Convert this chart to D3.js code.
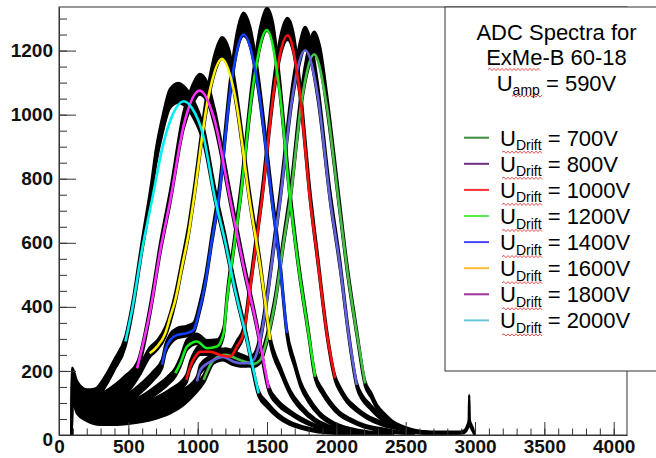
<!DOCTYPE html>
<html>
<head>
<meta charset="utf-8">
<script src="https://cdn.jsdelivr.net/npm/d3@7"></script>
<style>
  body { margin: 0; background: #fff; }
  svg { display: block; }
</style>
</head>
<body>
<div id="chart"></div>
<script>
// tick labels
var xMajor = [0, 500, 1000, 1500, 2000, 2500, 3000, 3500, 4000];
var yMajor = [0, 200, 400, 600, 800, 1000, 1200];

var voltages = ["700V", "800V", "1000V", "1200V", "1400V", "1600V", "1800V", "2000V"];
var fitColors = ["#44c044", "#6262dc", "#ff1010", "#18ee18", "#1140ff", "#fff000", "#ff30ff", "#00f0f0"];
var legendColors = ["#3d8b3d", "#6b2d7d", "#ff3333", "#55ee55", "#4444ff", "#ffbb33", "#a0309a", "#66c6d9"];

// fitted curves, [adc, counts]
var fit700 = [[1043,172],[1115,234],[1200,250],[1300,235],[1400,222],[1451,234],[1499,297],[1560,420],[1619,599],[1667,734],[1750,1044],[1840,1188],[1930,1030],[2015,734],[2075,526],[2147,318],[2207,161]];
var fit800 = [[995,167],[1019,203],[1115,234],[1180,244],[1259,229],[1307,224],[1355,224],[1403,234],[1451,297],[1499,422],[1547,578],[1595,734],[1685,1061],[1775,1201],[1865,1061],[1955,734],[2027,526],[2087,318],[2147,156]];
var fit1000 = [[918,172],[947,214],[983,245],[1019,260],[1091,260],[1163,250],[1235,245],[1283,276],[1331,318],[1367,422],[1415,578],[1463,734],[1555,1092],[1648,1248],[1730,1091],[1811,734],[1871,526],[1931,318],[1991,177]];
var fit1200 = [[839,193],[875,224],[923,276],[995,292],[1067,271],[1139,276],[1187,318],[1211,422],[1259,578],[1307,734],[1400,1093],[1499,1264],[1590,1077],[1667,734],[1727,526],[1799,318],[1847,182]];
var fit1400 = [[743,219],[767,266],[803,297],[851,312],[923,318],[971,328],[1007,380],[1055,474],[1103,609],[1151,734],[1240,1090],[1331,1250],[1430,1103],[1535,734],[1595,526],[1643,318]];
var fit1600 = [[654,255],[707,276],[767,318],[803,370],[839,422],[887,526],[935,630],[971,734],[1075,1050],[1175,1174],[1275,1045],[1374,734],[1451,526],[1523,297]];
var fit1800 = [[563,208],[659,391],[731,578],[803,734],[900,968],[1014,1075],[1120,985],[1235,734],[1331,526],[1427,338],[1511,146]];
var fit2000 = [[479,292],[527,391],[599,578],[671,734],[750,905],[820,1000],[899,1042],[960,1020],[1040,935],[1127,734],[1200,600],[1259,474],[1355,297],[1439,130]];

// measured spectra, [adc, counts, spread of the noise band]
var hist700 = [[92,0,0],[95,120,16],[130,80,13],[200,55,11],[300,42,10],[400,42,10],[500,45,10],[600,52,11],[700,62,11],[800,78,11],[900,105,11],[980,140,12],[1043,175,13],[1115,238,14],[1200,255,15],[1300,240,14],[1400,226,14],[1451,238,14],[1499,300,14],[1560,425,16],[1619,605,18],[1667,745,21],[1750,1060,27],[1795,1170,32],[1840,1225,34],[1885,1175,32],[1930,1045,27],[2015,745,21],[2075,530,17],[2147,320,13],[2207,161,9],[2250,125,8],[2291,89,7],[2350,60,6],[2411,37,5],[2470,25,4],[2531,16,4],[2620,9,3],[2750,7,3],[2880,7,3],[2920,10,4],[2945,25,6],[2955,40,8],[2958,125,0],[2962,40,8],[2975,25,6],[2990,10,4],[2995,0,0]];
var hist800 = [[92,0,0],[95,130,17],[130,90,14],[200,60,12],[300,50,11],[400,50,11],[500,55,11],[600,65,11],[700,80,11],[800,100,11],[900,130,12],[995,170,13],[1019,206,14],[1115,238,14],[1180,248,15],[1259,232,14],[1307,228,14],[1355,228,14],[1403,238,14],[1451,300,14],[1499,428,16],[1547,585,18],[1595,745,21],[1685,1075,27],[1730,1180,32],[1775,1240,34],[1820,1190,32],[1865,1075,27],[1955,745,21],[2027,530,17],[2087,320,13],[2147,156,9],[2190,115,8],[2243,89,7],[2300,63,6],[2363,42,5],[2430,28,4],[2507,16,4],[2600,9,3],[2700,5,2],[2710,0,0]];
var hist1000 = [[92,0,0],[95,140,18],[130,100,15],[200,70,12],[300,60,12],[400,62,12],[500,70,12],[600,85,12],[700,105,12],[800,130,12],[918,175,13],[947,218,14],[983,250,15],[1019,265,15],[1091,265,15],[1163,255,15],[1235,250,15],[1283,280,15],[1331,322,14],[1367,428,16],[1415,585,18],[1463,745,21],[1555,1105,28],[1600,1220,32],[1648,1268,34],[1690,1225,32],[1730,1105,28],[1811,745,21],[1871,530,17],[1931,320,13],[1991,177,9],[2030,140,8],[2075,109,7],[2150,78,6],[2219,57,5],[2330,35,5],[2459,21,4],[2560,10,3],[2650,5,2],[2660,0,0]];
var hist1200 = [[92,0,0],[95,150,18],[130,110,16],[200,80,13],[300,72,13],[400,78,13],[500,90,13],[600,110,13],[700,140,13],[780,168,13],[839,196,14],[875,228,15],[923,282,16],[995,300,16],[1067,280,16],[1139,282,16],[1187,322,15],[1211,428,16],[1259,585,18],[1307,745,21],[1400,1105,28],[1450,1240,32],[1499,1298,36],[1545,1250,32],[1590,1095,28],[1667,745,21],[1727,530,17],[1799,320,13],[1847,182,9],[1900,135,8],[1955,99,7],[2020,68,6],[2099,47,5],[2200,28,4],[2339,16,4],[2450,8,3],[2550,4,2],[2560,0,0]];
var hist1400 = [[92,0,0],[95,160,19],[130,120,16],[200,90,14],[300,85,14],[400,95,14],[500,115,14],[600,150,14],[680,185,14],[743,222,14],[767,268,15],[803,300,16],[851,318,16],[923,325,16],[971,335,16],[1007,385,16],[1055,480,17],[1103,615,19],[1151,745,21],[1240,1105,28],[1285,1230,32],[1331,1282,36],[1380,1240,32],[1430,1120,28],[1535,745,21],[1595,530,17],[1643,320,13],[1700,220,10],[1740,161,9],[1800,110,8],[1880,65,6],[1980,35,5],[2100,17,4],[2250,7,3],[2400,3,2],[2410,0,0]];
var hist1600 = [[92,0,0],[95,170,20],[130,130,17],[200,100,15],[300,98,15],[400,115,15],[500,150,15],[580,200,15],[654,258,15],[707,280,15],[767,322,16],[839,428,17],[887,532,18],[935,640,20],[971,745,21],[1075,1065,27],[1130,1170,31],[1175,1208,34],[1225,1175,31],[1275,1060,27],[1374,745,21],[1451,530,17],[1523,297,13],[1600,200,10],[1670,130,8],[1740,88,7],[1850,45,5],[1950,25,4],[2100,10,3],[2300,4,2],[2310,0,0]];
var hist1800 = [[92,0,0],[95,180,20],[130,140,18],[200,112,16],[300,115,16],[400,140,16],[480,170,16],[563,210,16],[659,395,17],[731,585,19],[803,745,22],[900,985,27],[960,1060,30],[1014,1095,32],[1070,1070,30],[1120,995,27],[1235,740,21],[1331,530,17],[1427,340,13],[1511,146,9],[1580,100,8],[1660,72,6],[1740,50,5],[1850,28,4],[1950,16,4],[2100,7,3],[2300,3,2],[2310,0,0]];
var hist2000 = [[92,0,0],[95,190,20],[130,150,18],[200,125,17],[260,128,17],[330,165,17],[400,220,17],[479,292,17],[527,391,18],[599,590,20],[664,760,23],[700,870,25],[750,975,27],[800,1050,30],[860,1068,31],[899,1060,30],[960,1025,28],[1040,940,26],[1127,745,22],[1200,605,19],[1259,480,17],[1355,300,13],[1439,130,9],[1500,95,8],[1580,60,6],[1660,38,5],[1740,25,4],[1850,14,4],[1950,8,3],[2100,4,2],[2300,2,1],[2310,0,0]];

var fits = [fit700, fit800, fit1000, fit1200, fit1400, fit1600, fit1800, fit2000];
var hists = [hist700, hist800, hist1000, hist1200, hist1400, hist1600, hist1800, hist2000];

var svg = d3.select("#chart").append("svg")
  .attr("width", 656)
  .attr("height", 458);

var x = d3.scaleLinear().domain([0, 4096]).range([59, 627]);
var y = d3.scaleLinear().domain([0, 1336]).range([435, 7]);

svg.append("defs").append("clipPath").attr("id", "frame")
  .append("rect")
  .attr("x", 59).attr("y", 7)
  .attr("width", 568).attr("height", 428);

var plot = svg.append("g").attr("clip-path", "url(#frame)");

var band = d3.area()
  .x(d => x(d[0]))
  .y0(d => y(Math.max(0, d[1] - d[2])))
  .y1(d => y(d[1] + d[2]))
  .curve(d3.curveMonotoneX);

plot.selectAll("path.hist")
  .data(hists)
  .enter().append("path")
  .attr("class", "hist")
  .attr("d", band)
  .attr("fill", "#000")
  .attr("stroke", "#000")
  .attr("stroke-width", 2.4)
  .attr("stroke-linejoin", "round");

var fitLine = d3.line()
  .x(d => x(d[0]))
  .y(d => y(d[1]))
  .curve(d3.curveMonotoneX);

plot.selectAll("path.fit")
  .data(fits)
  .enter().append("path")
  .attr("class", "fit")
  .attr("d", fitLine)
  .attr("fill", "none")
  .attr("stroke", (d, i) => fitColors[i])
  .attr("stroke-width", 2.6);

// frame
svg.append("rect")
  .attr("x", 59).attr("y", 7)
  .attr("width", 568).attr("height", 428)
  .attr("fill", "none")
  .attr("stroke", "#333");

// axes, ticks point into the frame
var xMinorAxis = d3.axisBottom(x).tickValues(d3.range(0, 4096, 100)).tickSize(-6.5).tickFormat("");
var xMajorAxis = d3.axisBottom(x).tickValues(xMajor).tickSizeInner(-13).tickSizeOuter(0).tickPadding(5).tickFormat(d3.format("d"));
var yMinorAxis = d3.axisLeft(y).tickValues(d3.range(0, 1336, 50)).tickSize(-8).tickFormat("");
var yMajorAxis = d3.axisLeft(y).tickValues(yMajor).tickSizeInner(-17).tickSizeOuter(0).tickPadding(6).tickFormat(d3.format("d"));

function styleAxis(g) {
  g.selectAll("line").attr("stroke", "#333");
  g.select(".domain").attr("stroke", "#333");
  g.selectAll("text")
    .attr("fill", "#111")
    .style("font-family", "'Liberation Sans', Arial, Helvetica, sans-serif")
    .style("font-weight", "bold")
    .style("font-size", "19px");
}

svg.append("g").attr("transform", "translate(0,435)").call(xMinorAxis).call(g => g.select(".domain").remove()).call(styleAxis);
svg.append("g").attr("transform", "translate(0,435)").call(xMajorAxis).call(styleAxis);
svg.append("g").attr("transform", "translate(59,0)").call(yMinorAxis).call(g => g.select(".domain").remove()).call(styleAxis);
var yg = svg.append("g").attr("transform", "translate(59,0)").call(yMajorAxis).call(styleAxis);
yg.selectAll(".tick text").filter(d => d === 0).attr("dy", "0.55em");

// legend
var font = "'Liberation Sans', Arial, Helvetica, sans-serif";
var leg = svg.append("g");
leg.append("rect")
  .attr("x", 445).attr("y", 7)
  .attr("width", 260).attr("height", 364)
  .attr("fill", "#fff")
  .attr("stroke", "#333");

function squiggle(x0, x1, yy) {
  var p = "M" + x0 + "," + yy, up = true;
  for (var xx = x0 + 2; xx <= x1; xx += 2) {
    p += "L" + xx + "," + (yy + (up ? -1.1 : 1.1));
    up = !up;
  }
  return p;
}
function wave(x0, x1, yy) {
  leg.append("path").attr("d", squiggle(x0, x1, yy))
    .attr("fill", "none").attr("stroke", "#e23b3b").attr("stroke-width", 0.9);
}

leg.append("text").attr("x", 556.5).attr("y", 40)
  .attr("text-anchor", "middle").style("font-family", font).style("font-size", "22px")
  .text("ADC Spectra for");
leg.append("text").attr("x", 556.5).attr("y", 65)
  .attr("text-anchor", "middle").style("font-family", font).style("font-size", "22px")
  .text("ExMe-B 60-18");
wave(488, 540, 69.5);
var amp = leg.append("text").attr("x", 556.5).attr("y", 90.5)
  .attr("text-anchor", "middle").style("font-family", font).style("font-size", "22px");
amp.append("tspan").text("U");
amp.append("tspan").attr("dy", 4.5).style("font-size", "14px").text("amp");
amp.append("tspan").attr("dy", -4.5).text(" = 590V");
wave(512, 542, 96);

voltages.forEach(function (v, i) {
  var base = 145.7 + 26.1 * i;
  leg.append("line")
    .attr("x1", 464).attr("x2", 489)
    .attr("y1", base - 8).attr("y2", base - 8)
    .attr("stroke", legendColors[i]).attr("stroke-width", 2);
  var t = leg.append("text").attr("x", 500).attr("y", base)
    .style("font-family", font).style("font-size", "22px");
  t.append("tspan").text("U");
  t.append("tspan").attr("dy", 4.5).style("font-size", "14px").text("Drift");
  t.append("tspan").attr("dy", -4.5).text(" = " + v);
  wave(502, 543, base + 6.5);
});
</script>
</body>
</html>
